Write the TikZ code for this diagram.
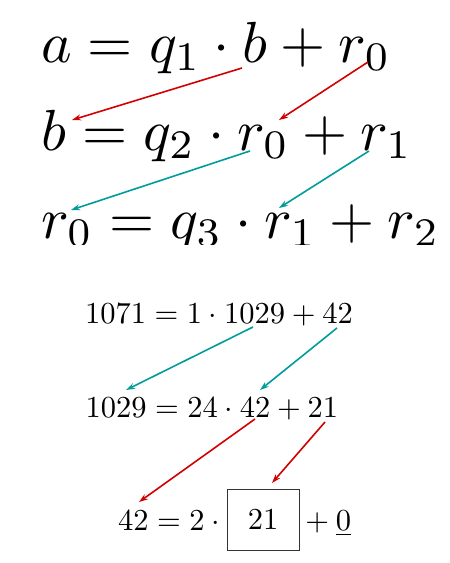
\documentclass[tikz,border=0pt]{standalone}
\usepackage{graphicx}
\usetikzlibrary{arrows.meta}
\definecolor{arrred}{RGB}{210,0,0}
\definecolor{arrteal}{RGB}{0,155,155}
\newcommand{\bigeq}[1]{\scalebox{5.8}{$#1$}}
\newcommand{\smalleq}[1]{\scalebox{3.05}{$#1$}}
\tikzset{
  eqtext/.style={anchor=base west, inner sep=0pt, font=\fontsize{10}{12}\selectfont},
  redarr/.style={draw=arrred, line width=1.6pt, -{Stealth[length=9pt,width=6pt]}},
  tealarr/.style={draw=arrteal, line width=1.6pt, -{Stealth[length=9pt,width=6pt]}},
  boxed/.style={draw=black!80, line width=0.9pt, inner sep=0pt,
    minimum width=72pt, minimum height=61pt, font=\fontsize{10}{12}\selectfont}
}
\begin{document}
\begin{tikzpicture}[x=1pt,y=-1pt]
\useasboundingbox (0,0) rectangle (450,563);
\begin{scope}
\clip (0,0) rectangle (450,244);
\node[eqtext] (e1) at (41,62) {\bigeq{a = q_1 \cdot b + r_0}};
\node[eqtext] (e2) at (41,150) {\bigeq{b = q_2 \cdot r_0 + r_1}};
\node[eqtext] (e3) at (41,238) {\bigeq{r_0 = q_3 \cdot r_1 + r_2}};
\end{scope}
\coordinate (t1s) at (242,68);  \coordinate (t1e) at (72,120);
\coordinate (t2s) at (368,62);  \coordinate (t2e) at (279,120);
\coordinate (t3s) at (250,151); \coordinate (t3e) at (71,210);
\coordinate (t4s) at (369,151); \coordinate (t4e) at (279,208);
\draw[redarr] (t1s) -- (t1e);
\draw[redarr] (t2s) -- (t2e);
\draw[tealarr] (t3s) -- (t3e);
\draw[tealarr] (t4s) -- (t4e);

\node[eqtext] (n1) at (85,323) {\smalleq{1071 = 1 \cdot 1029 + 42}};
\node[eqtext] (n2) at (85.5,417) {\smalleq{1029 = 24 \cdot 42 + 21}};
\node[eqtext] (n3a) at (118,530) {\smalleq{42 = 2 \cdot {}}};
\node[boxed] (bx) at (263,519.5) {\smalleq{21}};
\node[eqtext] (n3b) at (298.5,530) {\smalleq{{}+\underline{0}}};

\coordinate (b1s) at (253,327); \coordinate (b1e) at (126,390);
\coordinate (b2s) at (337,328); \coordinate (b2e) at (260,390);
\coordinate (b3s) at (255,419); \coordinate (b3e) at (139,502);
\coordinate (b4s) at (325,422); \coordinate (b4e) at (272,483);
\draw[tealarr] (b1s) -- (b1e);
\draw[tealarr] (b2s) -- (b2e);
\draw[redarr] (b3s) -- (b3e);
\draw[redarr] (b4s) -- (b4e);
\end{tikzpicture}
\end{document}
